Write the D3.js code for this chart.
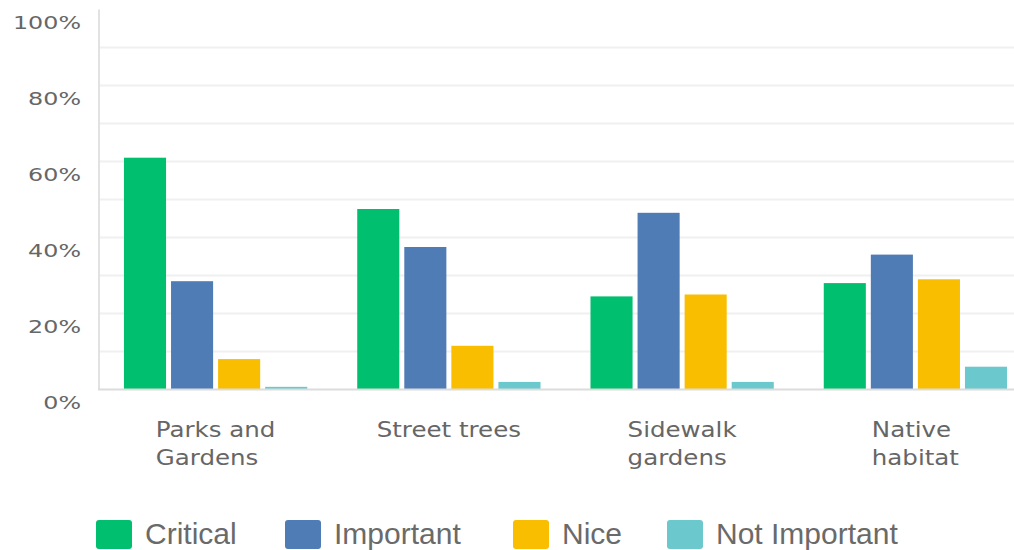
<!DOCTYPE html>
<html>
<head>
<meta charset="utf-8">
<script src="https://cdn.jsdelivr.net/npm/d3@7"></script>
<style>
  html, body { margin: 0; padding: 0; background: #fff; }
  svg { display: block; }
</style>
</head>
<body>
<svg id="chart" width="1014" height="550"></svg>
<script>
const categories = ["Parks and\nGardens", "Street trees", "Sidewalk\ngardens", "Native\nhabitat"];
const seriesNames = ["Critical", "Important", "Nice", "Not Important"];
const critical = [61, 47.5, 24.5, 28];
const important = [28.5, 37.5, 46.5, 35.5];
const nice = [8, 11.5, 25, 29];
const notImportant = [0.7, 2, 2, 6];
const seriesValues = [critical, important, nice, notImportant];
const colors = ["#00bf6f", "#507cb6", "#f9be00", "#6bc8cd"];
const yTicks = [0, 20, 40, 60, 80, 100];
const gridTicks = [10, 20, 30, 40, 50, 60, 70, 80, 90];

(function () {
const svg = d3.select("#chart");
const mLeft = 99, mRight = 1032, mTop = 9.5, mBottom = 389.5;
const legendX = [96, 285, 513, 667];

const y = d3.scaleLinear().domain([0, 100]).range([mBottom, mTop]);
const x0 = d3.scaleBand().domain(categories).range([mLeft, mRight])
  .paddingInner(0.2143).paddingOuter(0.107);
const x1 = d3.scaleBand().domain(seriesNames).range([0, x0.bandwidth()])
  .paddingInner(0.106).paddingOuter(0);

// gridlines
svg.append("g").selectAll("line").data(gridTicks).join("line")
  .attr("x1", mLeft).attr("x2", 1014)
  .attr("y1", d => y(d)).attr("y2", d => y(d))
  .attr("stroke", "#f0f0f0").attr("stroke-width", 2);

// y axis line
svg.append("line").attr("x1", mLeft).attr("x2", mLeft)
  .attr("y1", y(100)).attr("y2", y(0))
  .attr("stroke", "#e2e2e2").attr("stroke-width", 2);

// bars
const data = [];
categories.forEach((c, i) => seriesNames.forEach((s, j) => data.push({c, s, v: seriesValues[j][i], color: colors[j]})));
svg.append("g").selectAll("rect").data(data).join("rect")
  .attr("x", d => x0(d.c) + x1(d.s))
  .attr("width", x1.bandwidth())
  .attr("y", d => y(d.v))
  .attr("height", d => y(0) - y(d.v))
  .attr("fill", d => d.color);

// baseline
svg.append("line").attr("x1", mLeft - 1).attr("x2", 1014)
  .attr("y1", y(0)).attr("y2", y(0))
  .attr("stroke", "#dcdcdc").attr("stroke-width", 2);

// y labels
svg.append("g").selectAll("text").data(yTicks).join("text")
  .attr("transform", d => `translate(81,${y(d) + 19.7}) scale(1.3,1)`)
  .attr("text-anchor", "end")
  .attr("font-family", "DejaVu Sans")
  .attr("font-size", 18.3)
  .attr("fill", "#666")
  .text(d => d + "%");

// category labels
categories.forEach(c => {
  const lines = c.split("\n");
  const g = svg.append("g");
  const t = g.append("text")
    .attr("font-family", "DejaVu Sans")
    .attr("font-size", 20.6)
    .attr("fill", "#666");
  lines.forEach((ln, k) => {
    t.append("tspan").attr("x", 0).attr("y", k * 28.6).text(ln);
  });
  let w = 0;
  t.selectAll("tspan").each(function() { w = Math.max(w, this.getComputedTextLength()); });
  const sx = 1.19;
  const cx = x0(c) + x0.bandwidth() / 2;
  g.attr("transform", `translate(${cx - w * sx / 2},436.7) scale(${sx},1)`);
});

// legend
seriesNames.forEach((s, j) => {
  const lx = legendX[j];
  svg.append("rect").attr("x", lx).attr("y", 520).attr("width", 36).attr("height", 29)
    .attr("rx", 3).attr("fill", colors[j]);
  svg.append("text").attr("x", lx + 49).attr("y", 544)
    .attr("font-family", "Liberation Sans")
    .attr("font-size", 30)
    .attr("fill", "#6a6a6a")
    .text(s);
});
})();
</script>
</body>
</html>
